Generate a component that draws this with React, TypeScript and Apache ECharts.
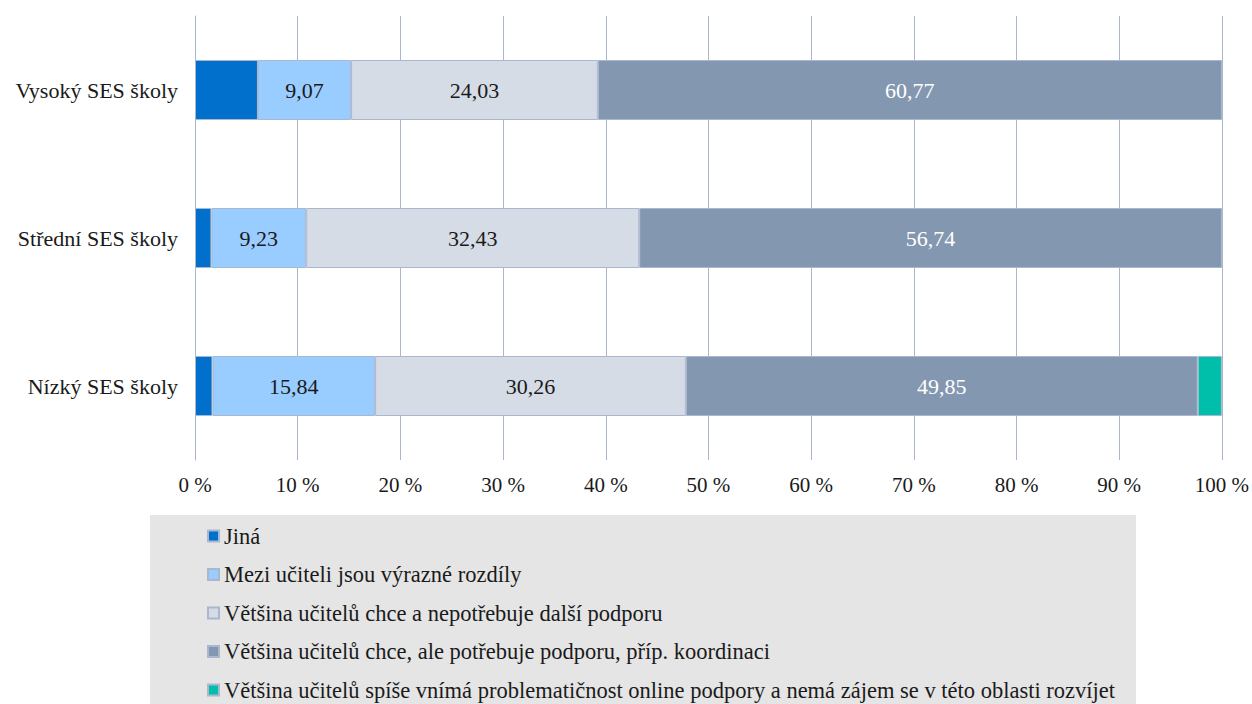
import React, { useEffect, useRef } from "react";
import * as echarts from "echarts";

const categories = ["Vysoký SES školy", "Střední SES školy", "Nízký SES školy"];
const seriesNames = [
  "Jiná",
  "Mezi učiteli jsou výrazné rozdíly",
  "Většina učitelů chce a nepotřebuje další podporu",
  "Většina učitelů chce, ale potřebuje podporu, příp. koordinaci",
  "Většina učitelů spíše vnímá problematičnost online podpory a nemá zájem se v této oblasti rozvíjet",
];
const jina = [6.13, 1.6, 1.7];
const rozdily = [9.07, 9.23, 15.84];
const nepotrebuje = [24.03, 32.43, 30.26];
const potrebuje = [60.77, 56.74, 49.85];
const nezajem = [0, 0, 2.35];
const seriesValues = [jina, rozdily, nepotrebuje, potrebuje, nezajem];
const xTicks = [0, 10, 20, 30, 40, 50, 60, 70, 80, 90, 100];

const colors = ["#0070CC", "#99CCFF", "#D6DCE5", "#8497B0", "#00BFAA"];
const showLabel = [false, true, true, true, false];
const labelColor = ["#1a1a1a", "#1a1a1a", "#1a1a1a", "#ffffff", "#1a1a1a"];
const FONT = "'Liberation Serif', 'Times New Roman', serif";

export default function App() {
  const ref = useRef<HTMLDivElement>(null);
  useEffect(() => {
    if (!ref.current) return;
    const chart = echarts.init(ref.current, undefined, { renderer: "svg" });
    chart.setOption({
      animation: false,
      textStyle: { fontFamily: FONT },
      graphic: [
        {
          type: "rect",
          left: 150,
          top: 515,
          shape: { width: 986, height: 189 },
          style: { fill: "#E5E5E5" },
          z: -1,
        },
      ],
      grid: { left: 195, right: 30, top: 16, bottom: 244, containLabel: false },
      xAxis: {
        type: "value",
        min: 0,
        max: 100,
        interval: 10,
        axisLine: { show: false },
        axisTick: { show: false },
        splitLine: { show: true, lineStyle: { color: "#A9B6CC", width: 1 } },
        axisLabel: {
          formatter: (v: number) => (xTicks.includes(v) ? `${v} %` : ""),
          fontFamily: FONT,
          fontSize: 21,
          color: "#1a1a1a",
          margin: 14,
        },
      },
      yAxis: {
        type: "category",
        data: categories,
        inverse: true,
        axisLine: { show: true, lineStyle: { color: "#A9B6CC", width: 1 } },
        axisTick: { show: false },
        axisLabel: {
          fontFamily: FONT,
          fontSize: 22,
          color: "#1a1a1a",
          margin: 17,
        },
      },
      legend: {
        orient: "vertical",
        left: 207,
        top: 524,
        height: 200,
        padding: 0,
        icon: "rect",
        itemWidth: 11,
        itemHeight: 11,
        itemGap: 14.5,
        data: seriesNames,
        textStyle: {
          fontFamily: FONT,
          fontSize: 22.5,
          color: "#1a1a1a",
          lineHeight: 24,
        },
      },
      series: seriesNames.map((name, i) => ({
        name,
        type: "bar",
        stack: "total",
        barWidth: 60,
        data: seriesValues[i],
        itemStyle: {
          color: colors[i],
          borderColor: "#A9B8CF",
          borderWidth: 1,
        },
        label: {
          show: showLabel[i],
          position: "inside",
          fontFamily: FONT,
          fontSize: 22,
          color: labelColor[i],
          formatter: (p: any) => (p.value > 0 ? String(p.value.toFixed(2)).replace(".", ",") : ""),
        },
      })),
    });
    return () => chart.dispose();
  }, []);
  return (
    <div
      ref={ref}
      style={{ position: "fixed", left: 0, top: 0, width: 1252, height: 704, background: "#fff" }}
    />
  );
}
